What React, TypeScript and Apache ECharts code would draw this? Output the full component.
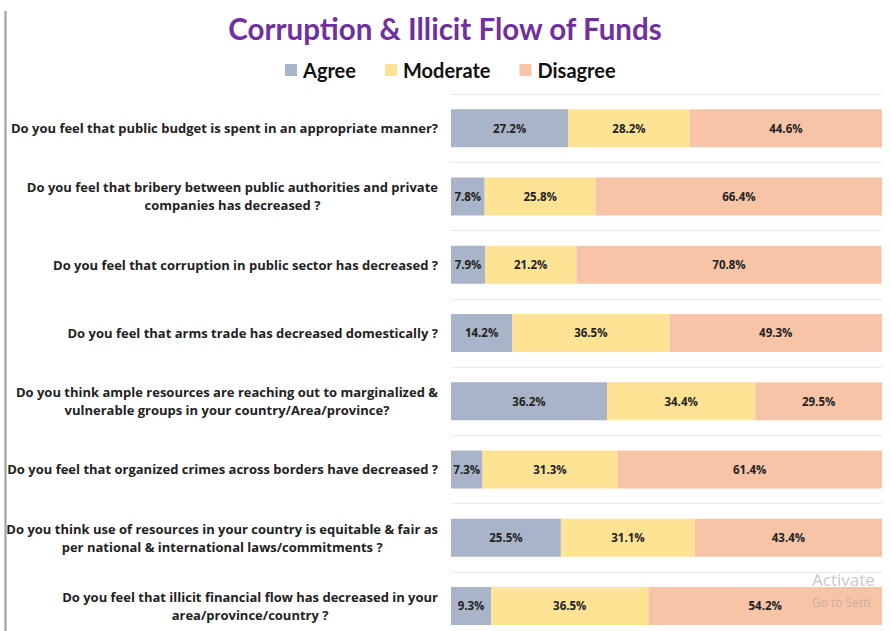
import React, { useEffect, useRef } from "react";
import * as echarts from "echarts";

const categories: string[] = [
  "Do you feel that public budget is spent in an appropriate manner?",
  "Do you feel that bribery between public authorities and private\ncompanies has decreased ?",
  "Do you feel that corruption in public sector has decreased ?",
  "Do you feel that arms trade has decreased domestically ?",
  "Do you think ample resources are reaching out to marginalized &\nvulnerable groups in your country/Area/province?",
  "Do you feel that organized crimes across borders have decreased ?",
  "Do you think use of resources in your country is equitable & fair as\nper national & international laws/commitments ?",
  "Do you feel that illicit financial flow has decreased in your\narea/province/country ?",
];

const agree: number[] = [27.2, 7.8, 7.9, 14.2, 36.2, 7.3, 25.5, 9.3];
const moderate: number[] = [28.2, 25.8, 21.2, 36.5, 34.4, 31.3, 31.1, 36.5];
const disagree: number[] = [44.6, 66.4, 70.8, 49.3, 29.5, 61.4, 43.4, 54.2];

const seriesNames = ["Agree", "Moderate", "Disagree"];
const colors = ["#A9B4C8", "#FEE395", "#F8C4A7"];

export default function App() {
  const ref = useRef<HTMLDivElement>(null);
  useEffect(() => {
    if (!ref.current) return;
    const chart = echarts.init(ref.current, null, { renderer: "svg" });
    const font = "Lato, 'Open Sans', sans-serif";
    const labelFont = "'Open Sans', sans-serif";
    const data = [agree, moderate, disagree];
    chart.setOption({
      animation: false,
      backgroundColor: "#ffffff",
      title: {
        text: "Corruption & Illicit Flow of Funds",
        left: "center",
        top: 8,
        textStyle: { color: "#7030A0", fontSize: 29.5, fontWeight: "bold", fontFamily: font },
      },
      legend: {
        top: 55,
        left: 280,
        itemWidth: 12,
        itemHeight: 12,
        itemGap: 29,
        icon: "rect",
        data: seriesNames,
        textStyle: { color: "#111", fontSize: 20, fontWeight: "bold", fontFamily: font, padding: [0, 0, 0, 1] },
      },
      grid: { left: 451, right: 8, top: 94, height: 546, containLabel: false },
      xAxis: {
        type: "value",
        min: 0,
        max: 100,
        show: false,
      },
      yAxis: {
        type: "category",
        inverse: true,
        data: categories,
        axisLine: { show: false },
        axisTick: { show: false },
        splitLine: { show: true, lineStyle: { color: "#E8EAEE", width: 1 } },
        axisLabel: {
          margin: 13,
          fontFamily: labelFont,
          formatter: (v: string) => v.split("\n").map((l) => `{c|${l}}`).join("\n"),
          rich: {
            c: { align: "center", fontSize: 13, fontWeight: "bold", color: "#222", fontFamily: labelFont, lineHeight: 18 },
          },
        },
      },
      series: data.map((d, i) => ({
        name: seriesNames[i],
        type: "bar",
        stack: "total",
        barWidth: 38,
        itemStyle: { color: colors[i] },
        label: {
          show: true,
          position: "inside",
          formatter: (p: any) => `${p.value.toFixed(1)}%`,
          color: "#222",
          fontSize: 11.5,
          fontWeight: "bold",
          fontFamily: labelFont,
        },
        data: d,
      })),
      graphic: [
        {
          type: "line",
          z: 100,
          shape: { x1: 5.5, y1: 11, x2: 5.5, y2: 650 },
          style: { stroke: "#9a9a9a", lineWidth: 2 },
        },
        {
          type: "text",
          z: 100,
          left: 812,
          top: 571,
          style: { text: "Activate", fill: "rgba(150,150,150,0.55)", fontSize: 17, fontFamily: labelFont },
        },
        {
          type: "text",
          z: 100,
          left: 812,
          top: 596,
          style: { text: "Go to Setti", fill: "rgba(150,150,150,0.55)", fontSize: 12, fontFamily: labelFont },
        },
      ],
    });
    return () => chart.dispose();
  }, []);
  return (
    <div
      ref={ref}
      style={{ position: "fixed", left: 0, top: 0, width: 890, height: 650 }}
    />
  );
}
